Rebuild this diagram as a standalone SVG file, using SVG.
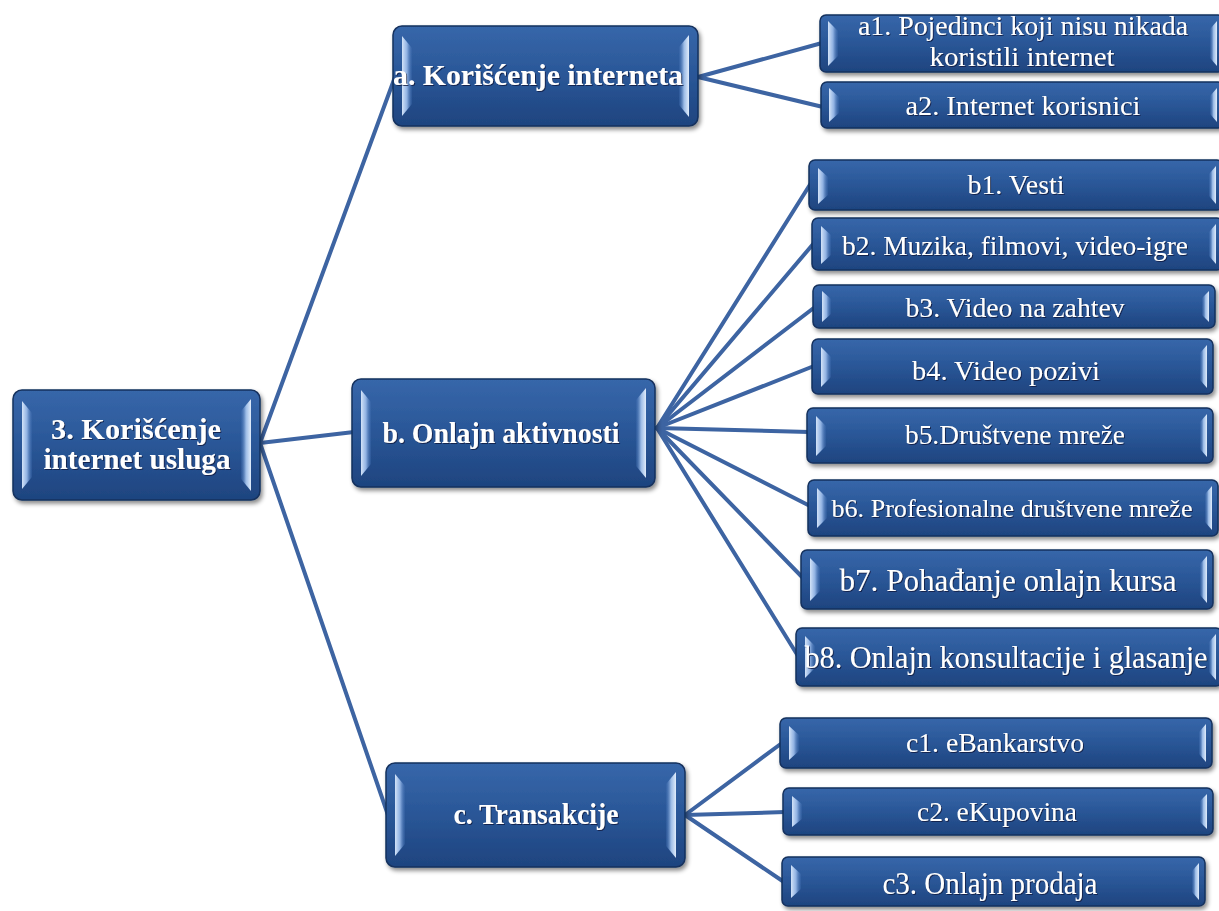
<svg xmlns="http://www.w3.org/2000/svg" width="1219" height="911" viewBox="0 0 1219 911">
<defs>
<linearGradient id="bg" x1="0" y1="0" x2="0" y2="1">
<stop offset="0" stop-color="#3767aa"/>
<stop offset="0.45" stop-color="#2b5899"/>
<stop offset="1" stop-color="#1e447f"/>
</linearGradient>
<linearGradient id="hlL" x1="0" y1="0" x2="1" y2="0">
<stop offset="0" stop-color="#d3e3f8"/>
<stop offset="0.5" stop-color="#8fb1e2"/>
<stop offset="1" stop-color="#3e6cb0" stop-opacity="0.3"/>
</linearGradient>
<linearGradient id="hlR" x1="0" y1="0" x2="1" y2="0">
<stop offset="0" stop-color="#3e6cb0" stop-opacity="0.3"/>
<stop offset="0.5" stop-color="#9bbbe6"/>
<stop offset="1" stop-color="#e0ecfb"/>
</linearGradient>
<filter id="sh" x="-5%" y="-10%" width="112%" height="130%">
<feDropShadow dx="2" dy="3" stdDeviation="2" flood-color="#000" flood-opacity="0.45"/>
</filter>
<filter id="ts" x="-5%" y="-20%" width="110%" height="140%">
<feDropShadow dx="1" dy="1" stdDeviation="0.6" flood-color="#0b1d40" flood-opacity="0.8"/>
</filter>
</defs>
<style>
.box{fill:url(#bg);stroke:#14305d;stroke-width:1.5;filter:url(#sh)}
.hl{fill:url(#hlL)}
.hr{fill:url(#hlR)}
text{font-family:"Liberation Serif","Times New Roman",serif;fill:#ffffff;text-anchor:middle;filter:url(#ts)}
.p{font-weight:bold;font-size:30px}
.k{font-size:27px}
.con line{stroke:#3d64a2;stroke-width:4;stroke-linecap:round}
</style>
<rect width="1219" height="911" fill="#ffffff"/>
<g id="connectors" class="con">
<line x1="260" y1="443" x2="395" y2="77"/>
<line x1="260" y1="443" x2="354" y2="432"/>
<line x1="260" y1="443" x2="388" y2="815"/>
<line x1="698" y1="77" x2="822" y2="43"/>
<line x1="698" y1="77" x2="823" y2="107"/>
<line x1="657" y1="428" x2="811" y2="183"/>
<line x1="657" y1="428" x2="814" y2="243"/>
<line x1="657" y1="428" x2="815" y2="307"/>
<line x1="657" y1="428" x2="814" y2="366"/>
<line x1="657" y1="428" x2="809" y2="432"/>
<line x1="657" y1="428" x2="810" y2="506"/>
<line x1="657" y1="428" x2="803" y2="578"/>
<line x1="657" y1="428" x2="798" y2="656"/>
<line x1="685" y1="815" x2="782" y2="743"/>
<line x1="685" y1="815" x2="785" y2="812"/>
<line x1="685" y1="815" x2="784" y2="882"/>
</g>
<g id="n-root">
<rect class="box" x="13" y="390" width="247" height="110" rx="9"/>
<polygon class="hl" points="22,401 32,413 32,477 22,489"/>
<polygon class="hr" points="251,399 241,411 241,479 251,491"/>
<text class="p" x="136" y="439" textLength="170" lengthAdjust="spacingAndGlyphs">3. Korišćenje</text>
<text class="p" x="137" y="469" textLength="187" lengthAdjust="spacingAndGlyphs">internet usluga</text>
</g>
<g id="n-a">
<rect class="box" x="393" y="26" width="305" height="100" rx="9"/>
<polygon class="hl" points="402,36 412,48 412,104 402,116"/>
<polygon class="hr" points="689,35 679,47 679,105 689,117"/>
<text class="p" x="538" y="85" textLength="290" lengthAdjust="spacingAndGlyphs">a. Korišćenje interneta</text>
</g>
<g id="n-b">
<rect class="box" x="352" y="379" width="303" height="108" rx="9"/>
<polygon class="hl" points="361,390 371,402 371,464 361,476"/>
<polygon class="hr" points="646,388 636,400 636,466 646,478"/>
<text class="p" x="501" y="443" textLength="237" lengthAdjust="spacingAndGlyphs">b. Onlajn aktivnosti</text>
</g>
<g id="n-c">
<rect class="box" x="386" y="763" width="299" height="104" rx="9"/>
<polygon class="hl" points="395,774 405,786 405,844 395,856"/>
<polygon class="hr" points="676,772 666,784 666,846 676,858"/>
<text class="p" x="536" y="824" textLength="165" lengthAdjust="spacingAndGlyphs">c. Transakcije</text>
</g>
<g id="n-a1">
<rect class="box" x="820" y="15" width="404" height="57" rx="6"/>
<polygon class="hl" points="828,21 838,31 838,56 828,66"/>
<polygon class="hr" points="1217,21 1210,29 1210,58 1217,66"/>
<text class="k" x="1023" y="35" textLength="330" lengthAdjust="spacingAndGlyphs">a1. Pojedinci koji nisu nikada</text>
<text class="k" x="1022" y="66" textLength="185" lengthAdjust="spacingAndGlyphs">koristili internet</text>
</g>
<g id="n-a2">
<rect class="box" x="821" y="82" width="403" height="46" rx="6"/>
<polygon class="hl" points="829,88 839,97 839,113 829,122"/>
<polygon class="hr" points="1217,88 1210,96 1210,114 1217,122"/>
<text class="k" x="1023" y="115" textLength="235" lengthAdjust="spacingAndGlyphs">a2. Internet korisnici</text>
</g>
<g id="n-b1">
<rect class="box" x="809" y="160" width="414" height="50" rx="6"/>
<polygon class="hl" points="818,168 828,177 828,195 818,204"/>
<polygon class="hr" points="1216,166 1209,174 1209,196 1216,204"/>
<text class="k" x="1016" y="194" textLength="97" lengthAdjust="spacingAndGlyphs">b1. Vesti</text>
</g>
<g id="n-b2">
<rect class="box" x="812" y="218" width="411" height="52" rx="6"/>
<polygon class="hl" points="821,226 831,235 831,255 821,264"/>
<polygon class="hr" points="1216,224 1209,232 1209,256 1216,264"/>
<text class="k" x="1015" y="255" textLength="346" lengthAdjust="spacingAndGlyphs">b2. Muzika, filmovi, video-igre</text>
</g>
<g id="n-b3">
<rect class="box" x="813" y="285" width="402" height="43" rx="6"/>
<polygon class="hl" points="822,291 831,299 831,314 822,322"/>
<polygon class="hr" points="1209,291 1202,298 1202,315 1209,322"/>
<text class="k" x="1015" y="317" textLength="219" lengthAdjust="spacingAndGlyphs">b3. Video na zahtev</text>
</g>
<g id="n-b4">
<rect class="box" x="812" y="339" width="401" height="55" rx="6"/>
<polygon class="hl" points="821,347 831,357 831,377 821,387"/>
<polygon class="hr" points="1207,345 1200,353 1200,380 1207,388"/>
<text class="k" x="1006" y="380" textLength="188" lengthAdjust="spacingAndGlyphs">b4. Video pozivi</text>
</g>
<g id="n-b5">
<rect class="box" x="807" y="408" width="406" height="55" rx="6"/>
<polygon class="hl" points="816,416 826,426 826,446 816,456"/>
<polygon class="hr" points="1207,414 1200,422 1200,449 1207,457"/>
<text class="k" x="1015" y="444" textLength="220" lengthAdjust="spacingAndGlyphs">b5.Društvene mreže</text>
</g>
<g id="n-b6">
<rect class="box" x="808" y="480" width="410" height="56" rx="6"/>
<polygon class="hl" points="817,488 827,498 827,518 817,528"/>
<polygon class="hr" points="1212,486 1205,494 1205,522 1212,530"/>
<text class="k" x="1012" y="517" textLength="361" lengthAdjust="spacingAndGlyphs" style="font-size:26px">b6. Profesionalne društvene mreže</text>
</g>
<g id="n-b7">
<rect class="box" x="801" y="550" width="412" height="59" rx="6"/>
<polygon class="hl" points="810,558 820,568 820,591 810,601"/>
<polygon class="hr" points="1207,556 1200,564 1200,595 1207,603"/>
<text class="k" x="1008" y="591" textLength="337" lengthAdjust="spacingAndGlyphs" style="font-size:31px">b7. Pohađanje onlajn kursa</text>
</g>
<g id="n-b8">
<rect class="box" x="796" y="628" width="426" height="58" rx="6"/>
<polygon class="hl" points="805,636 815,646 815,668 805,678"/>
<polygon class="hr" points="1216,634 1209,642 1209,672 1216,680"/>
<text class="k" x="1006" y="668" textLength="403" lengthAdjust="spacingAndGlyphs" style="font-size:31px">b8. Onlajn konsultacije i glasanje</text>
</g>
<g id="n-c1">
<rect class="box" x="780" y="718" width="432" height="50" rx="6"/>
<polygon class="hl" points="789,726 799,735 799,751 789,760"/>
<polygon class="hr" points="1206,724 1199,732 1199,754 1206,762"/>
<text class="k" x="995" y="752" textLength="178" lengthAdjust="spacingAndGlyphs">c1. eBankarstvo</text>
</g>
<g id="n-c2">
<rect class="box" x="783" y="788" width="430" height="47" rx="6"/>
<polygon class="hl" points="792,796 802,804 802,819 792,827"/>
<polygon class="hr" points="1207,794 1200,801 1200,822 1207,829"/>
<text class="k" x="997" y="821" textLength="160" lengthAdjust="spacingAndGlyphs">c2. eKupovina</text>
</g>
<g id="n-c3">
<rect class="box" x="782" y="857" width="423" height="49" rx="6"/>
<polygon class="hl" points="791,865 801,874 801,889 791,898"/>
<polygon class="hr" points="1199,863 1192,871 1192,892 1199,900"/>
<text class="k" x="990" y="894" textLength="215" lengthAdjust="spacingAndGlyphs" style="font-size:31px">c3. Onlajn prodaja</text>
</g>
</svg>
